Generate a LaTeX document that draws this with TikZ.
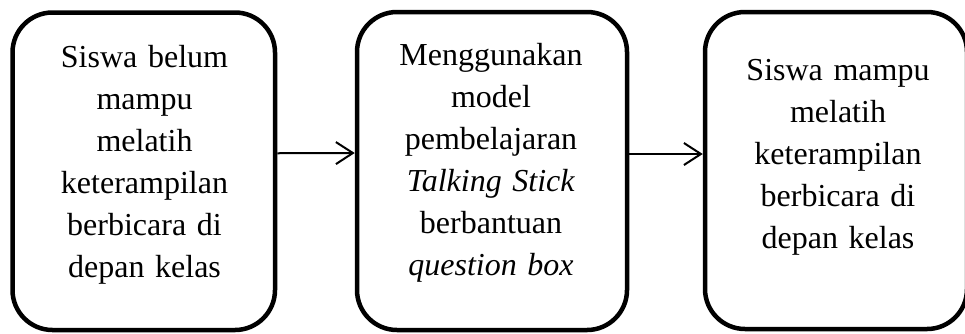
\documentclass[tikz,border=0pt]{standalone}
\usepackage{fontspec}
\setmainfont{Liberation Serif}
\usetikzlibrary{arrows.meta}

\tikzset{
  stagebox/.style={draw, line width=4.5pt, rounded corners=40pt, inner sep=0pt,
    fill=white},
  stagetext/.style={anchor=base, inner sep=0pt, text width=262pt, align=center,
    font=\fontsize{32}{42}\selectfont},
  flow/.style={line width=2pt, -{Straight Barb[length=17pt,width=22pt,line width=2pt]}}
}

\begin{document}
\begin{tikzpicture}[x=1pt, y=-1pt]
  \useasboundingbox (0,0) rectangle (965,333);

  % the three stages
  \node[stagebox, minimum width=262.5pt, minimum height=317.5pt] (b1) at (143.75,171.25) {};
  \node[stagebox, minimum width=270pt, minimum height=318pt] (b2) at (492,171) {};
  \node[stagebox, minimum width=262pt, minimum height=317pt] (b3) at (836,170.5) {};

  % their texts
  \node[stagetext] (t1) at (144.5,67) {Siswa belum\\ mampu\\ melatih\\ keterampilan\\ berbicara di\\ depan kelas};
  \node[stagetext] (t2) at (491,65) {Menggunakan\\ model\\ pembelajaran\\ \textit{Talking Stick}\\ berbantuan\\ \textit{question box}};
  \node[stagetext] (t3) at (838,80) {Siswa mampu\\ melatih\\ keterampilan\\ berbicara di\\ depan kelas};

  % connectors
  \draw[flow] ([yshift=18pt]b1.east) -- ([yshift=18pt]b2.west);
  \draw[flow] ([yshift=17pt]b2.east) -- ([yshift=17pt]b2.east -| b3.west);
\end{tikzpicture}
\end{document}
